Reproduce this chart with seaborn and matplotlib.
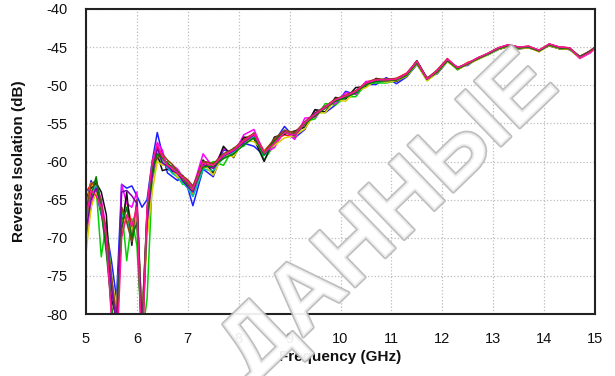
import numpy as np
import pandas as pd
import matplotlib
matplotlib.use("Agg")
import matplotlib.pyplot as plt
import matplotlib.patheffects as pe
import seaborn as sns

# Frequency grid (GHz)
freq_low = [5.0, 5.1, 5.2, 5.3, 5.4, 5.5, 5.6, 5.7, 5.8, 5.9, 6.0, 6.1, 6.2, 6.3,
            6.4, 6.5, 6.6, 6.7, 6.8, 6.9, 7.0, 7.1]
freq_high = [7.3, 7.5, 7.7, 7.9, 8.1, 8.3, 8.5, 8.7, 8.9, 9.1, 9.3, 9.5, 9.7, 9.9,
             10.1, 10.3, 10.5, 10.7, 10.9, 11.1, 11.3, 11.5, 11.7, 11.9, 12.1, 12.3,
             12.5, 12.7, 12.9, 13.1, 13.3, 13.5, 13.7, 13.9, 14.1, 14.3, 14.5, 14.7,
             14.9, 15.0]
freq = freq_low + freq_high

# Reverse isolation traces (dB)
trace_blue = [-65.5, -62.5, -64.0, -67.0, -69.0, -73.0, -78.0, -63.0, -63.5, -63.2, -64.5, -66.0, -65.0, -60.0,
              -56.2, -59.0, -61.5, -62.0, -62.5, -61.8, -63.5, -65.8,
              -61.0, -62.0, -58.5, -58.8, -57.6, -58.0, -59.2, -57.4, -55.4, -56.9, -55.8, -53.2, -53.6, -52.6,
              -50.8, -51.2, -49.9, -49.9, -49.0, -49.8, -48.9, -47.3, -49.0, -48.5, -46.9, -47.6, -47.4, -46.4,
              -46.0, -45.3, -44.9, -45.2, -45.1, -45.4, -44.8, -45.2, -45.3, -46.2, -45.7, -45.2]
trace_red = [-64.0, -63.0, -62.5, -65.5, -71.0, -79.0, -84.0, -68.0, -65.0, -68.5, -67.0, -85.0, -68.0, -61.0,
             -58.0, -59.5, -60.3, -60.8, -61.5, -62.0, -62.5, -63.5,
             -60.0, -60.2, -59.6, -58.5, -57.0, -56.4, -58.6, -57.2, -56.5, -56.8, -54.8, -54.0, -52.8, -51.8,
             -51.7, -50.8, -49.6, -49.2, -49.5, -49.1, -48.4, -46.9, -49.3, -48.0, -46.5, -47.9, -47.0, -46.6,
             -45.8, -45.1, -44.7, -45.0, -44.9, -45.6, -44.6, -45.0, -45.1, -46.4, -45.5, -45.0]
trace_green = [-68.0, -64.5, -63.5, -72.5, -68.0, -75.0, -82.0, -66.0, -73.0, -67.5, -71.0, -83.0, -78.0, -62.5,
               -59.5, -60.2, -60.0, -61.5, -62.0, -63.0, -62.8, -64.5,
               -61.0, -60.0, -60.5, -58.2, -58.0, -56.2, -59.8, -57.8, -55.9, -57.0, -54.8, -54.4, -52.4, -52.6,
               -51.5, -51.5, -49.8, -49.7, -49.7, -49.4, -48.8, -47.2, -49.4, -48.3, -46.8, -48.0, -47.1, -46.6,
               -46.0, -45.3, -44.9, -45.2, -45.0, -45.5, -44.8, -45.2, -45.3, -46.4, -45.7, -45.2]
trace_magenta = [-70.0, -66.0, -63.0, -65.0, -69.0, -80.0, -85.0, -63.0, -65.5, -66.0, -64.0, -84.0, -66.0, -60.5,
                 -57.5, -58.5, -61.0, -60.5, -61.0, -62.0, -62.5, -63.5,
                 -59.0, -60.8, -58.3, -59.0, -56.5, -55.8, -58.9, -58.2, -56.0, -57.1, -54.3, -54.2, -52.7, -52.4,
                 -51.0, -51.2, -49.5, -49.5, -49.2, -49.2, -48.5, -46.8, -49.1, -48.1, -46.6, -47.7, -47.2, -46.4,
                 -45.9, -45.1, -44.7, -45.0, -44.9, -45.5, -44.6, -45.0, -45.1, -46.5, -45.8, -45.2]
trace_black = [-65.0, -63.5, -62.8, -64.0, -67.0, -78.0, -80.5, -69.0, -64.0, -71.0, -65.5, -81.0, -67.0, -61.5,
               -59.0, -61.2, -61.0, -61.3, -61.4, -62.6, -63.2, -63.8,
               -59.8, -61.5, -58.0, -59.5, -56.8, -57.0, -60.0, -56.8, -56.4, -56.0, -55.5, -53.2, -53.5, -51.6,
               -51.8, -50.3, -50.2, -49.1, -49.4, -49.5, -48.7, -46.8, -49.1, -48.3, -46.6, -47.9, -47.2, -46.5,
               -45.9, -45.3, -44.9, -45.2, -45.1, -45.5, -44.8, -45.2, -45.3, -46.3, -45.6, -45.1]
trace_orange = [-66.0, -62.8, -63.8, -66.5, -70.0, -76.0, -81.0, -69.5, -67.0, -69.0, -66.0, -82.0, -69.0, -62.0,
                -59.2, -60.0, -60.6, -61.0, -62.2, -62.0, -63.0, -64.2,
                -60.8, -60.4, -59.6, -58.9, -57.4, -56.8, -58.8, -57.6, -56.0, -56.4, -55.1, -53.9, -52.9, -52.0,
                -51.5, -50.8, -49.9, -49.3, -49.4, -49.2, -48.6, -47.0, -49.3, -48.2, -46.7, -47.8, -47.1, -46.5,
                -45.9, -45.2, -44.8, -45.1, -45.0, -45.4, -44.7, -45.1, -45.2, -46.3, -45.6, -45.1]
trace_cyan = [-67.0, -64.0, -63.2, -66.5, -71.5, -77.0, -80.0, -67.0, -67.5, -70.0, -66.5, -81.5, -67.5, -61.8,
              -58.9, -60.0, -60.8, -61.6, -62.0, -62.8, -63.5, -64.6,
              -61.0, -61.2, -59.5, -58.8, -57.8, -56.7, -59.2, -57.5, -56.2, -56.5, -55.0, -53.8, -53.0, -52.1,
              -51.6, -51.0, -49.9, -49.5, -49.5, -49.3, -48.7, -47.1, -49.2, -48.2, -46.7, -47.8, -47.2, -46.5,
              -45.9, -45.2, -44.8, -45.1, -45.0, -45.5, -44.7, -45.1, -45.2, -46.3, -45.6, -45.1]
trace_yellow = [-72.0, -66.0, -64.0, -66.0, -70.0, -75.5, -79.0, -68.0, -67.0, -69.0, -67.0, -80.5, -70.0, -64.0,
                -60.0, -60.5, -60.3, -61.0, -62.0, -62.4, -63.0, -63.8,
                -60.2, -61.8, -59.0, -59.4, -57.2, -57.4, -58.6, -57.9, -56.9, -56.6, -55.7, -53.7, -53.6, -51.9,
                -52.1, -50.8, -50.3, -49.3, -49.6, -49.4, -48.8, -47.2, -49.4, -48.4, -46.9, -47.9, -47.3, -46.6,
                -46.0, -45.3, -44.9, -45.2, -45.1, -45.6, -44.8, -45.2, -45.3, -46.4, -45.7, -45.2]
trace_brown = [-66.5, -63.0, -62.5, -65.5, -69.5, -75.0, -80.5, -66.0, -68.0, -70.5, -65.0, -81.0, -66.5, -60.8,
               -59.5, -59.0, -59.8, -60.4, -61.3, -61.9, -62.4, -63.2,
               -60.0, -60.3, -59.0, -58.3, -57.2, -56.3, -58.8, -57.0, -55.9, -56.2, -54.8, -53.6, -52.8, -51.8,
               -51.3, -50.7, -49.7, -49.2, -49.2, -49.1, -48.5, -46.8, -49.1, -48.0, -46.6, -47.7, -47.1, -46.4,
               -45.8, -45.1, -44.7, -45.0, -44.9, -45.4, -44.6, -45.0, -45.1, -46.2, -45.5, -45.0]
trace_purple = [-69.0, -65.0, -63.5, -66.0, -70.5, -76.5, -81.5, -64.0, -63.8, -64.5, -65.5, -82.5, -68.0, -62.0,
                -58.2, -60.2, -60.6, -61.2, -61.6, -62.5, -63.3, -64.0,
                -60.4, -60.9, -59.3, -58.6, -57.5, -56.5, -59.0, -57.6, -56.1, -56.6, -55.0, -53.7, -53.0, -52.0,
                -51.5, -50.9, -49.8, -49.4, -49.4, -49.3, -48.6, -47.0, -49.2, -48.2, -46.7, -47.8, -47.2, -46.5,
                -45.9, -45.2, -44.8, -45.1, -45.0, -45.5, -44.7, -45.1, -45.2, -46.3, -45.6, -45.1]
trace_darkgreen = [-66.0, -64.5, -62.0, -66.5, -72.0, -79.0, -83.0, -68.5, -66.0, -70.0, -68.0, -84.0, -67.0, -61.0,
                   -59.0, -59.6, -60.2, -60.8, -61.4, -62.2, -63.0, -63.6,
                   -60.7, -60.6, -59.6, -59.0, -57.8, -56.9, -59.1, -57.3, -56.2, -56.4, -55.1, -54.0, -53.0, -52.1,
                   -51.6, -51.0, -49.9, -49.5, -49.4, -49.3, -48.7, -47.1, -49.2, -48.3, -46.8, -47.8, -47.2, -46.5,
                   -45.9, -45.2, -44.8, -45.1, -45.0, -45.5, -44.7, -45.1, -45.2, -46.3, -45.6, -45.1]
trace_pink = [-67.5, -63.8, -64.5, -66.0, -70.0, -80.5, -86.0, -70.0, -67.0, -68.5, -66.0, -86.0, -66.0, -60.0,
              -57.8, -59.2, -60.5, -60.9, -61.5, -62.1, -62.7, -63.6,
              -60.2, -60.5, -59.2, -58.5, -57.3, -56.4, -58.9, -57.6, -56.2, -56.5, -54.9, -53.8, -52.9, -51.9,
              -51.4, -50.8, -49.7, -49.3, -49.3, -49.2, -48.5, -46.9, -49.2, -48.1, -46.6, -47.7, -47.1, -46.4,
              -45.8, -45.1, -44.7, -45.0, -44.9, -45.4, -44.6, -45.0, -45.1, -46.4, -45.7, -45.1]

trace_names = ["blue", "red", "green", "magenta", "black", "orange", "cyan",
               "yellow", "brown", "purple", "darkgreen", "pink"]
trace_values = [trace_blue, trace_red, trace_green, trace_magenta, trace_black, trace_orange,
                trace_cyan, trace_yellow, trace_brown, trace_purple, trace_darkgreen, trace_pink]
trace_colors = ["#1f1fff", "#ff1010", "#00d000", "#ff00ff", "#111111", "#ff8c00",
                "#00c0c0", "#d8d000", "#8b4513", "#7b00b0", "#007a00", "#ff1493"]

x_ticks = [5, 6, 7, 8, 9, 10, 11, 12, 13, 14, 15]
y_ticks = [-80, -75, -70, -65, -60, -55, -50, -45, -40]

rows = []
for name, vals in zip(trace_names, trace_values):
    for f, v in zip(freq, vals):
        rows.append({"freq": f, "db": v, "trace": name})
df = pd.DataFrame(rows)

sns.set_theme(style="white")
plt.rcParams["font.family"] = ["Liberation Sans", "DejaVu Sans"]
plt.rcParams["axes.unicode_minus"] = False

fig = plt.figure(figsize=(6.15, 3.76), dpi=100)
ax = fig.add_axes([86 / 615, 1 - 314 / 376, (595 - 86) / 615, (314 - 9) / 376])

ax.grid(True, color="#bdbdbd", linestyle=":", linewidth=0.9)
ax.set_axisbelow(True)

sns.lineplot(data=df, x="freq", y="db", hue="trace", palette=dict(zip(trace_names, trace_colors)),
             legend=False, linewidth=1.1, estimator=None, sort=False, ax=ax)

ax.set_xlim(5, 15)
ax.set_ylim(-80, -40)
ax.set_xticks(x_ticks)
ax.set_yticks(y_ticks)
ax.tick_params(axis="both", length=0, pad=13, labelsize=10.5, colors="#111111")
for s in ax.spines.values():
    s.set_color("#222222")
    s.set_linewidth(1.5)

ax.set_xlabel("Frequency (GHz)", fontsize=11, fontweight="bold", color="#111111")
ax.set_ylabel("Reverse Isolation (dB)", fontsize=11, fontweight="bold", color="#111111")
ax.xaxis.set_label_coords(0.5, -0.118)
ax.yaxis.set_label_coords(-0.118, 0.5)

wm = fig.text(390 / 615, 1 - 219 / 376, "ДАННЫЕ", fontsize=68, fontweight="bold",
              color=(1, 1, 1, 0.72), rotation=44, ha="center", va="center", zorder=10,
              family=["Liberation Sans", "DejaVu Sans"])
wm.set_path_effects([pe.Stroke(linewidth=2.5, foreground=(0.72, 0.72, 0.72, 0.9)), pe.Normal()])

fig.savefig("out.png", dpi=100)
